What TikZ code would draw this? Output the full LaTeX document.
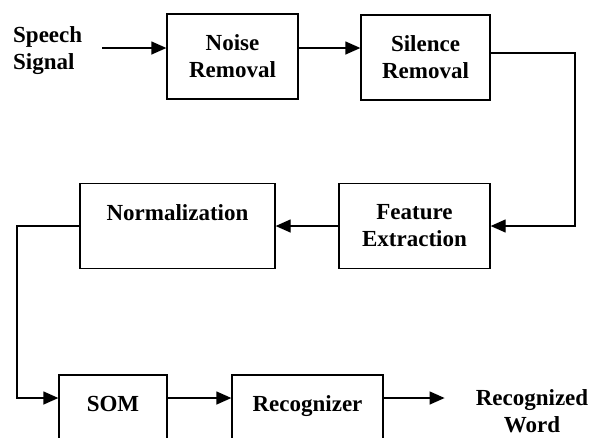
\documentclass[tikz,border=0pt]{standalone}
\usepackage{fontspec}
\setmainfont{Liberation Serif}
\usetikzlibrary{arrows.meta,math}
\tikzset{
  block/.style = {draw, line width=1.3pt, align=center, inner sep=0pt,
    font=\fontsize{23}{27}\selectfont\bfseries},
  plain/.style = {inner sep=0pt, font=\fontsize{23}{27}\selectfont\bfseries},
  flow/.style = {line width=1.3pt, -{Triangle[length=15pt,width=13pt]}}
}

\begin{document}
\begin{tikzpicture}[x=1pt, y=-1pt]
    \tikzmath{
      \rowA = 48;
      \rowC = 398;
      \boxH = 85;
    }
    \useasboundingbox (0,0) rectangle (594,437);
    \coordinate (rowA) at (0,\rowA);
    \coordinate (rowC) at (0,\rowC);
    \coordinate (turnR) at (575,53);
    \coordinate (turnL) at (17,\rowC);
    \node[plain, align=left, anchor=west] (speech) at (13,51) {Speech\\Signal};
    \node[block, minimum width=131pt, minimum height=\boxH pt]
    (noise) at (232.5,56.5) {Noise\\Removal};
    \node[block, minimum width=129pt, minimum height=\boxH pt]
    (silence) at (425.5,57.5) {Silence\\Removal};
    \node[block, minimum width=151pt, minimum height=\boxH pt]
    (feature) at (414.5,226) {Feature\\Extraction};
    \node[block, minimum width=195pt, minimum height=\boxH pt]
    (norm) at (177.5,226) {Normalization\\\mbox{}};
    \node[block, minimum width=108pt, minimum height=\boxH pt]
    (som) at (113,417.5) {SOM\\\mbox{}};
    \node[block, minimum width=151pt, minimum height=\boxH pt]
    (recog) at (307.5,417.5) {Recognizer\\\mbox{}};
    \node[plain, align=center] (word) at (532,411) {Recognized\\Word};
    \draw[flow, shorten <=20pt] (speech.east |- rowA) -- (noise.west |- rowA);
    \draw[flow] (noise.east |- rowA) -- (silence.west |- rowA);
    \draw[flow] (silence.east |- turnR) -- (turnR) |- (feature.east);
    \draw[flow] (feature) -- (norm);
    \draw[flow] (norm.west) -| (turnL) -- (som.west |- rowC);
    \draw[flow] (som.east |- rowC) -- (recog.west |- rowC);
    \draw[flow, shorten >=31pt] (recog.east |- rowC) -- (word.west |- rowC);
  \end{tikzpicture}
\end{document}
